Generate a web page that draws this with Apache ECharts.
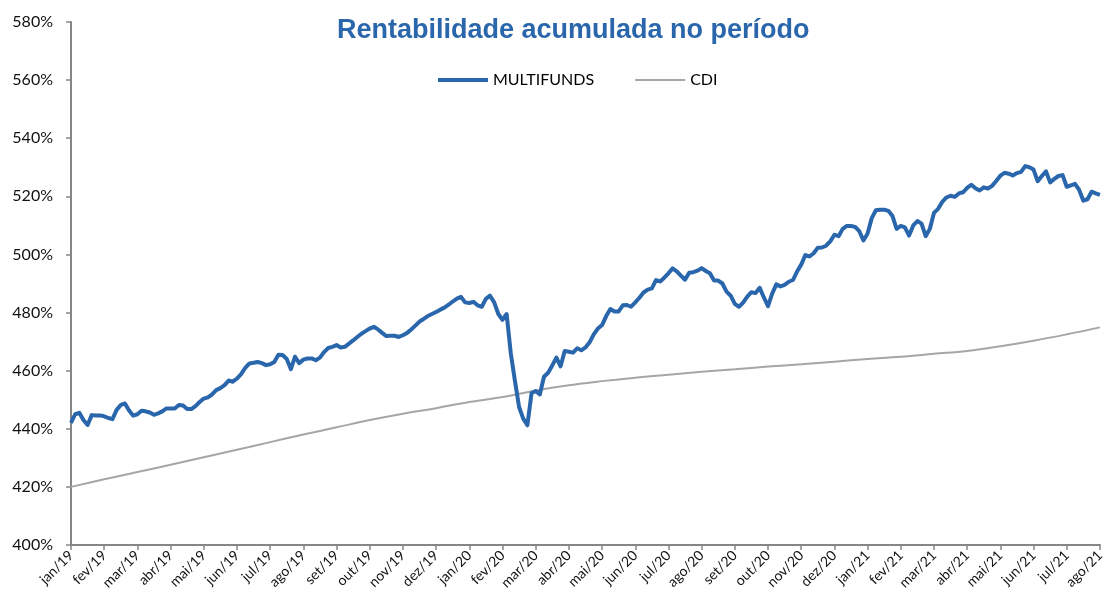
<!DOCTYPE html>
<html lang="pt">
<head>
    <meta charset="UTF-8">
    <title>Rentabilidade acumulada no período</title>
    <script src="https://cdn.jsdelivr.net/npm/echarts@6/dist/echarts.min.js"></script>
    <style>
        html, body { margin: 0; padding: 0; background: #fff; }
        #main { width: 1107px; height: 611px; }
    </style>
</head>
<body>
<div id="main"></div>
<script>
    // rótulos dos meses (eixo x)
    var months = ['jan/19', 'fev/19', 'mar/19', 'abr/19', 'mai/19', 'jun/19', 'jul/19', 'ago/19',
        'set/19', 'out/19', 'nov/19', 'dez/19', 'jan/20', 'fev/20', 'mar/20', 'abr/20',
        'mai/20', 'jun/20', 'jul/20', 'ago/20', 'set/20', 'out/20', 'nov/20', 'dez/20',
        'jan/21', 'fev/21', 'mar/21', 'abr/21', 'mai/21', 'jun/21', 'jul/21', 'ago/21'];

    // MULTIFUNDS: 8 leituras por mês (%)
    var multifunds = [
        442.0, 445.0, 445.5, 443.0, 441.3, 444.7, 444.6, 444.6,
        444.3, 443.7, 443.3, 446.5, 448.2, 448.7, 446.3, 444.5,
        445.0, 446.2, 446.0, 445.6, 444.8, 445.3, 446.0, 447.0,
        447.0, 447.0, 448.2, 448.0, 446.8, 446.8, 447.8, 449.2,
        450.4, 450.8, 451.8, 453.3, 454.0, 455.0, 456.6, 456.2,
        457.3, 458.8, 461.0, 462.5, 462.7, 463.0, 462.6, 461.9,
        462.2, 463.0, 465.5, 465.4, 464.0, 460.5, 464.8, 462.6,
        463.8, 464.2, 464.2, 463.6, 464.5, 466.4, 467.8, 468.2,
        468.8, 468.0, 468.2, 469.3, 470.4, 471.6, 472.7, 473.6,
        474.5, 475.1, 474.2, 473.0, 471.9, 472.0, 472.0, 471.6,
        472.2, 473.0, 474.2, 475.5, 476.9, 477.8, 478.8, 479.5,
        480.2, 481.0, 481.7, 482.7, 483.8, 484.8, 485.4, 483.5,
        483.3, 483.7, 482.5, 482.0, 484.7, 485.8, 483.5, 479.5,
        477.5, 479.5, 466.0, 456.5, 447.5, 443.5, 441.2, 452.2,
        453.0, 451.8, 457.9, 459.3, 461.8, 464.5, 461.5, 466.8,
        466.5, 466.2, 467.7, 467.0, 468.0, 469.8, 472.5, 474.5,
        475.7, 478.8, 481.2, 480.4, 480.4, 482.5, 482.6, 482.0,
        483.5, 485.1, 486.9, 487.9, 488.3, 491.2, 490.7, 492.0,
        493.5, 495.2, 494.2, 492.7, 491.3, 493.7, 493.9, 494.4,
        495.3, 494.3, 493.5, 491.0, 491.0, 490.0, 487.2, 485.8,
        483.0, 482.0, 483.4, 485.5, 487.0, 486.7, 488.5, 485.2,
        482.2, 486.5, 489.7, 489.0, 489.5, 490.6, 491.2, 494.1,
        496.5, 499.8, 499.3, 500.4, 502.3, 502.4, 503.0, 504.5,
        506.8, 506.3, 508.8, 509.8, 509.8, 509.5, 508.0, 504.8,
        507.2, 512.5, 515.2, 515.4, 515.4, 515.0, 513.2, 508.8,
        509.8, 509.3, 506.5, 510.0, 511.5, 510.6, 506.3, 508.8,
        514.3, 515.7, 518.1, 519.6, 520.2, 519.8, 521.0, 521.4,
        522.9, 524.0, 522.8, 522.0, 523.1, 522.7, 523.6, 525.3,
        527.1, 528.1, 527.8, 527.2, 528.0, 528.4, 530.4, 530.0,
        529.2, 525.2, 527.0, 528.6, 524.8, 526.0, 527.0, 527.3,
        523.3, 523.8, 524.3, 522.2, 518.5, 519.0, 521.6, 521.0,
        520.5
    ];
    var mfPerMonth = 8;

    // CDI: uma leitura por mês (%)
    var cdi = [
        420.0, 422.6, 425.1, 427.6, 430.2, 432.8, 435.4, 438.0,
        440.5, 443.0, 445.2, 447.1, 449.2, 450.9, 453.2, 455.0,
        456.4, 457.6, 458.6, 459.6, 460.5, 461.4, 462.2, 463.1,
        464.0, 464.8, 465.8, 466.8, 468.4, 470.3, 472.5, 474.9
    ];

    var chart = echarts.init(document.getElementById('main'));

    var mfData = multifunds.map(function (v, i) { return [i / mfPerMonth, v]; });
    var cdiData = cdi.map(function (v, i) { return [i, v]; });

    var blue = '#2A66AC';
    var gray = '#A6A6A6';
    var axisGray = '#868686';
    var font = 'Lato, "Liberation Sans", sans-serif';

    var option = {
        animation: false,
        title: {
            text: 'Rentabilidade acumulada no período',
            left: 332,
            top: 12,
            textStyle: {
                color: blue,
                fontSize: 27,
                fontWeight: 'bold',
                fontFamily: 'Liberation Sans, Arial, sans-serif'
            }
        },
        legend: {
            top: 67,
            left: 431,
            itemWidth: 50,
            itemHeight: 12,
            itemGap: 40,
            // só a linha, sem o círculo
            itemStyle: { opacity: 0 },
            textStyle: { color: '#000', fontSize: 16, fontFamily: font },
            data: [
                { name: 'MULTIFUNDS', lineStyle: { color: blue, width: 4 } },
                { name: 'CDI', lineStyle: { color: gray, width: 2 } }
            ]
        },
        grid: {
            left: 71,
            right: 5,
            top: 22,
            bottom: 66
        },
        xAxis: {
            type: 'value',
            min: 0,
            max: 31,
            interval: 1,
            splitLine: { show: false },
            axisLine: { lineStyle: { color: axisGray, width: 2 } },
            axisTick: { show: true, length: 5, lineStyle: { color: axisGray, width: 1.5 } },
            axisLabel: {
                rotate: 45,
                margin: 8,
                color: '#111',
                fontSize: 14,
                fontFamily: font,
                showMaxLabel: true,
                formatter: function (v) { return months[Math.round(v)]; }
            }
        },
        yAxis: {
            type: 'value',
            min: 400,
            max: 580,
            interval: 20,
            splitLine: { show: false },
            axisLine: { show: true, lineStyle: { color: axisGray, width: 2 } },
            axisTick: { show: true, length: 5, lineStyle: { color: axisGray, width: 1.5 } },
            axisLabel: {
                margin: 18,
                color: '#111',
                fontSize: 16,
                fontFamily: font,
                formatter: '{value}%'
            }
        },
        series: [
            {
                name: 'MULTIFUNDS',
                type: 'line',
                symbol: 'none',
                data: mfData,
                z: 3,
                itemStyle: { color: blue },
                lineStyle: { color: blue, width: 4, join: 'round' }
            },
            {
                name: 'CDI',
                type: 'line',
                symbol: 'none',
                smooth: 0.4,
                data: cdiData,
                z: 2,
                itemStyle: { color: gray },
                lineStyle: { color: gray, width: 2 }
            }
        ]
    };
    chart.setOption(option);
</script>
</body>
</html>
